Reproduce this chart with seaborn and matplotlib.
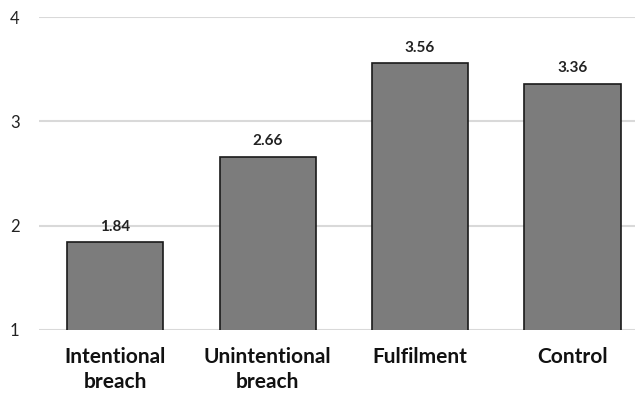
import matplotlib
matplotlib.use("Agg")
import matplotlib.pyplot as plt
import seaborn as sns
import pandas as pd

categories = ["Intentional\nbreach", "Unintentional\nbreach", "Fulfilment", "Control"]
means = [1.84, 2.66, 3.56, 3.36]
y_ticks = [1, 2, 3, 4]

sns.set_theme(style="white")
plt.rcParams["font.family"] = ["Lato", "DejaVu Sans"]

df = pd.DataFrame({"condition": categories, "mean": means})

fig = plt.figure(figsize=(6.35, 3.95), dpi=100)
ax = fig.add_axes([39 / 635, 65 / 395, 1 - 39 / 635, (395 - 65 - 17) / 395])

sns.barplot(data=df, x="condition", y="mean", color="#7c7c7c", saturation=1,
            width=0.63, edgecolor="#1a1a1a", linewidth=1.2, ax=ax, zorder=3)

ax.set_ylim(1, 4)
ax.set_xlim(-0.5, 3.41)
ax.set_yticks(y_ticks)
ax.set_yticklabels([str(t) for t in y_ticks], fontsize=12, color="#222222")
ax.yaxis.grid(True, color="#d9d9d9", linewidth=1.5, zorder=0)
ax.set_axisbelow(True)
for s in ax.spines.values():
    s.set_visible(False)
ax.tick_params(axis="y", length=0, pad=14)
ax.tick_params(axis="x", length=0, pad=12)
ax.set_xticks(range(len(categories)))
ax.set_xticklabels(categories, fontsize=15, fontweight="bold", color="#111111",
                   linespacing=1.35)
ax.set_xlabel("")
ax.set_ylabel("")

for i, v in enumerate(means):
    ax.text(i, v + 0.08, f"{v:.2f}", ha="center", va="bottom",
            fontsize=11, fontweight="bold", color="#222222")

fig.savefig("out.png", dpi=100)
